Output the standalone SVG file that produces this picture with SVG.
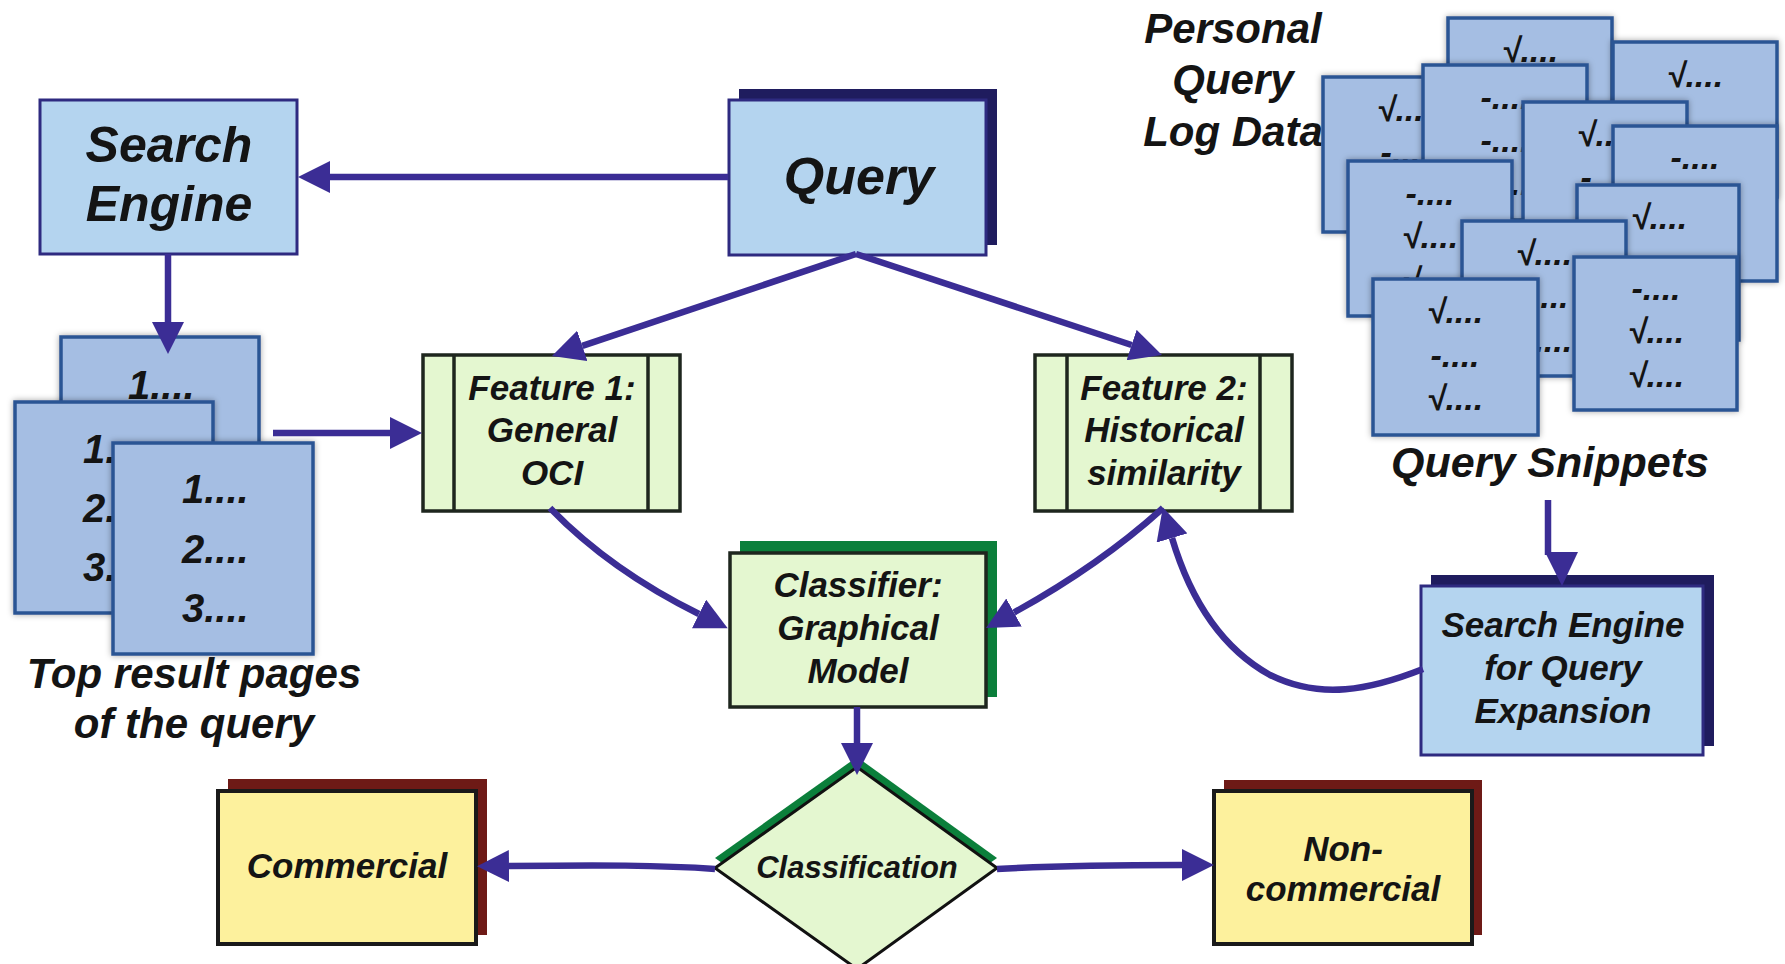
<svg xmlns="http://www.w3.org/2000/svg" width="1785" height="964" viewBox="0 0 1785 964">
<defs>
<style>
.t{font-family:"Liberation Sans",Arial,sans-serif;font-weight:bold;font-style:italic;fill:#141414;}
.c{text-anchor:middle;}
.blue{fill:#b4d4ef;stroke:#2e2a80;stroke-width:3;}
.card{fill:#a5bee3;stroke:#2c5494;stroke-width:3.5;}
.green{fill:#e4f7d0;stroke:#1e261e;stroke-width:3.5;}
.yellow{fill:#fdf19d;stroke:#1a1a1a;stroke-width:4;}
.navy{fill:#1f1c5e;}
.gsh{fill:#0b7f3b;}
.rsh{fill:#6e1a16;}
.conn{fill:none;stroke:#3b2d95;stroke-width:6.5;}
.s32{font-size:34px;}
.s35{font-size:35px;}
.s40{font-size:40px;}
.s42{font-size:42px;}
</style>
<marker id="ah" viewBox="0 0 32 32" refX="0" refY="16" markerWidth="32" markerHeight="32" markerUnits="userSpaceOnUse" orient="auto">
<path d="M0,0 L32,16 L0,32 z" fill="#3b2d95"/>
</marker>
<filter id="sh" x="-10%" y="-10%" width="120%" height="120%">
<feDropShadow dx="0" dy="0" stdDeviation="3" flood-color="#000" flood-opacity="0.35"/>
</filter>
</defs>
<rect width="1785" height="964" fill="#ffffff"/>

<g id="search-engine">
<rect class="blue" x="40" y="100" width="257" height="154"/>
<text class="t c" x="169" y="162" font-size="50">Search</text>
<text class="t c" x="169" y="221" font-size="50">Engine</text>
</g>

<g id="query">
<rect class="navy" x="739" y="89" width="258" height="156"/>
<rect class="blue" x="729" y="100" width="257" height="155"/>
<text class="t c" x="859" y="194" font-size="52">Query</text>
</g>

<g id="result-pages">
<rect class="card" filter="url(#sh)" x="61" y="337" width="198" height="211"/>
<text class="t s40" x="128" y="399">1....</text>
<rect class="card" filter="url(#sh)" x="15" y="402" width="198" height="211"/>
<text class="t s40" x="83" y="463">1....</text>
<text class="t s40" x="83" y="522">2....</text>
<text class="t s40" x="83" y="581">3....</text>
<rect class="card" filter="url(#sh)" x="113" y="443" width="200" height="211"/>
<text class="t s40" x="182" y="503">1....</text>
<text class="t s40" x="182" y="563">2....</text>
<text class="t s40" x="182" y="622">3....</text>
<text class="t c" x="194" y="688" font-size="42">Top result pages</text>
<text class="t c" x="194" y="738" font-size="42">of the query</text>
</g>

<g id="feature1">
<rect class="green" x="423" y="355" width="257" height="156"/>
<line x1="454" y1="355" x2="454" y2="511" stroke="#1e261e" stroke-width="3.5"/>
<line x1="648" y1="355" x2="648" y2="511" stroke="#1e261e" stroke-width="3.5"/>
<text class="t c s35" x="552" y="400">Feature 1:</text>
<text class="t c s35" x="552" y="442">General</text>
<text class="t c s35" x="552" y="485">OCI</text>
</g>

<g id="feature2">
<rect class="green" x="1035" y="355" width="257" height="156"/>
<line x1="1067" y1="355" x2="1067" y2="511" stroke="#1e261e" stroke-width="3.5"/>
<line x1="1260" y1="355" x2="1260" y2="511" stroke="#1e261e" stroke-width="3.5"/>
<text class="t c s35" x="1164" y="400">Feature 2:</text>
<text class="t c s35" x="1164" y="442">Historical</text>
<text class="t c s35" x="1164" y="485">similarity</text>
</g>

<g id="classifier">
<rect class="gsh" x="740" y="541" width="257" height="156"/>
<rect class="green" x="730" y="553" width="256" height="154" stroke-width="4"/>
<text class="t c s35" x="858" y="597">Classifier:</text>
<text class="t c s35" x="858" y="640">Graphical</text>
<text class="t c s35" x="858" y="683">Model</text>
</g>

<g id="classification">
<polygon class="gsh" points="857,757 997,858 857,959 715,858"/>
<polygon points="857,767 997,868 857,969 715,868" fill="#e4f7d0" stroke="#111" stroke-width="3"/>
<text class="t c" x="857" y="878" font-size="31">Classification</text>
</g>

<g id="commercial">
<rect class="rsh" x="228" y="779" width="259" height="156"/>
<rect class="yellow" x="218" y="791" width="258" height="153"/>
<text class="t c s35" x="347" y="878">Commercial</text>
</g>

<g id="non-commercial">
<rect class="rsh" x="1224" y="780" width="258" height="155"/>
<rect class="yellow" x="1214" y="791" width="258" height="153"/>
<text class="t c s35" x="1343" y="861">Non-</text>
<text class="t c s35" x="1343" y="901">commercial</text>
</g>

<g id="query-expansion">
<rect class="navy" x="1431" y="575" width="283" height="171"/>
<rect class="blue" x="1421" y="586" width="282" height="169"/>
<text class="t c s35" x="1563" y="637">Search Engine</text>
<text class="t c s35" x="1563" y="680">for Query</text>
<text class="t c s35" x="1563" y="723">Expansion</text>
</g>

<g id="personal-log">
<text class="t c s42" x="1233" y="43">Personal</text>
<text class="t c s42" x="1233" y="94">Query</text>
<text class="t c s42" x="1233" y="146">Log Data</text>
</g>

<g id="query-snippets">
<rect class="card" filter="url(#sh)" x="1448" y="18" width="164" height="155"/>
<text class="t c s32" x="1530" y="62">√....</text>
<rect class="card" filter="url(#sh)" x="1613" y="42" width="164" height="155"/>
<text class="t c s32" x="1695" y="87">√....</text>
<rect class="card" filter="url(#sh)" x="1323" y="77" width="164" height="155"/>
<text class="t c s32" x="1405" y="121">√....</text>
<text class="t c s32" x="1405" y="164">-....</text>
<rect class="card" filter="url(#sh)" x="1423" y="65" width="164" height="155"/>
<text class="t c s32" x="1505" y="109">-....</text>
<text class="t c s32" x="1505" y="152">-....</text>
<text class="t c s32" x="1505" y="195">-....</text>
<rect class="card" filter="url(#sh)" x="1523" y="102" width="164" height="155"/>
<text class="t c s32" x="1605" y="146">√....</text>
<text class="t c s32" x="1605" y="189">-....</text>
<rect class="card" filter="url(#sh)" x="1613" y="126" width="164" height="155"/>
<text class="t c s32" x="1695" y="169">-....</text>
<rect class="card" filter="url(#sh)" x="1348" y="161" width="164" height="155"/>
<text class="t c s32" x="1430" y="205">-....</text>
<text class="t c s32" x="1430" y="248">√....</text>
<text class="t c s32" x="1430" y="292">√....</text>
<rect class="card" filter="url(#sh)" x="1577" y="185" width="162" height="155"/>
<text class="t c s32" x="1659" y="229">√....</text>
<rect class="card" filter="url(#sh)" x="1462" y="221" width="164" height="155"/>
<text class="t c s32" x="1544" y="265">√....</text>
<text class="t c s32" x="1544" y="308">-....</text>
<text class="t c s32" x="1544" y="352">√....</text>
<rect class="card" filter="url(#sh)" x="1574" y="257" width="163" height="153"/>
<text class="t c s32" x="1656" y="300">-....</text>
<text class="t c s32" x="1656" y="343">√....</text>
<text class="t c s32" x="1656" y="387">√....</text>
<rect class="card" filter="url(#sh)" x="1373" y="279" width="165" height="156"/>
<text class="t c s32" x="1455" y="323">√....</text>
<text class="t c s32" x="1455" y="367">-....</text>
<text class="t c s32" x="1455" y="410">√....</text>
<text class="t c" x="1550" y="477" font-size="43">Query Snippets</text>
</g>

<g id="connectors">
<path class="conn" d="M728 177 H330" marker-end="url(#ah)"/>
<path class="conn" d="M168 254 V322" marker-end="url(#ah)"/>
<path class="conn" d="M273 433 H390" marker-end="url(#ah)"/>
<path class="conn" d="M856 254 L582.3 345.8" marker-end="url(#ah)"/>
<path class="conn" d="M856 254 L1131.6 345" marker-end="url(#ah)"/>
<path class="conn" d="M550 508 Q610 570 699 614" marker-end="url(#ah)"/>
<path class="conn" d="M1163 508 Q1100 565 1014 612.5" marker-end="url(#ah)"/>
<path class="conn" d="M1423 669 C1370 690 1320 700 1270 675 C1225 650 1192 605 1172 538" marker-end="url(#ah)"/>
<path class="conn" d="M857 707 V743" marker-end="url(#ah)"/>
<path class="conn" d="M715 869 C660 865 600 865 509 866" marker-end="url(#ah)"/>
<path class="conn" d="M997 869 C1050 866 1100 865 1182 865" marker-end="url(#ah)"/>
<path class="conn" d="M1548 500 V555"/>
<polygon points="1545,552 1578,552 1562,586" fill="#3b2d95"/>
</g>
</svg>
